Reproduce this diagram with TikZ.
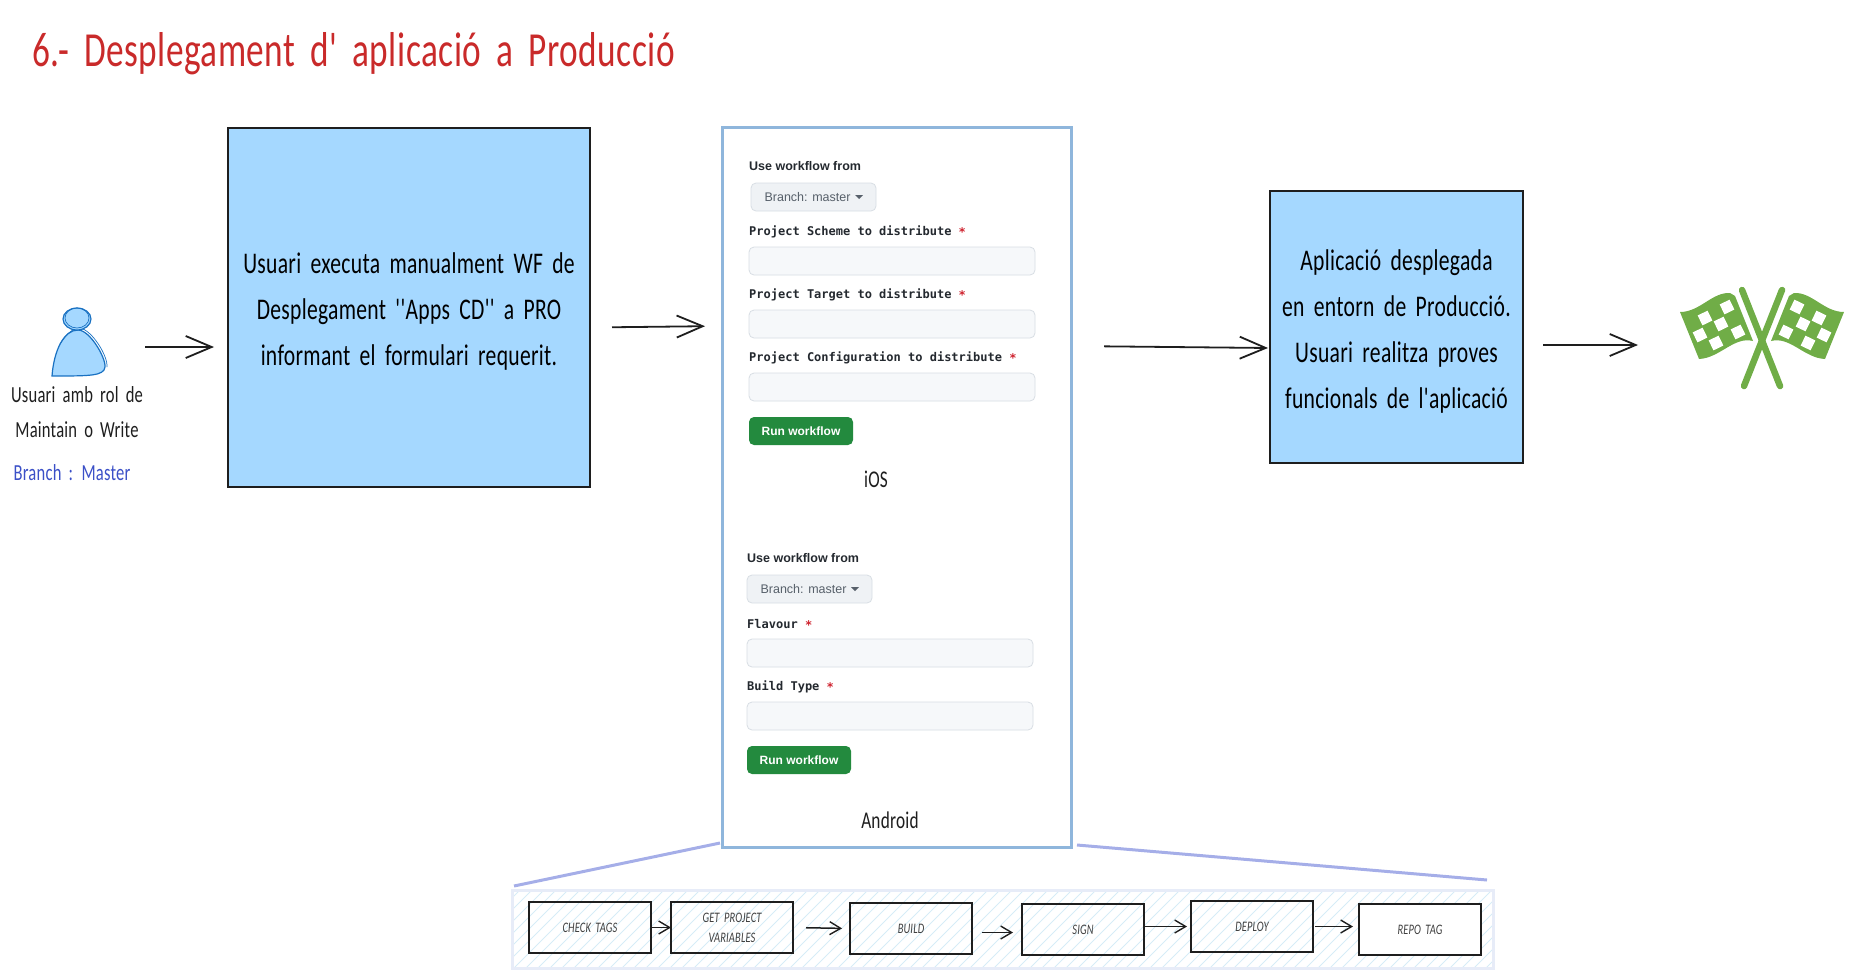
\documentclass[tikz,border=0pt]{standalone}
\usepackage{fontspec}
\usepackage{xcolor}
\usetikzlibrary{positioning}
\usetikzlibrary{arrows.meta}
\newfontfamily\handfont[FakeStretch=0.72,LetterSpace=1,WordSpace=1.8]{Carlito}
\newfontfamily\uifont{Liberation Sans}
\newfontfamily\codefont{DejaVu Sans Mono}
\definecolor{inkblack}{HTML}{1E1E1E}
\definecolor{skyfill}{HTML}{A5D8FF}
\definecolor{skyline}{HTML}{1971C2}
\definecolor{titlered}{HTML}{C92A2A}
\definecolor{branchblue}{HTML}{3B50C7}
\definecolor{formframe}{HTML}{8FB6DC}
\definecolor{zoomblue}{HTML}{A5AEE8}
\definecolor{panelline}{HTML}{E7ECF8}
\definecolor{hatchblue}{HTML}{D6ECF7}
\definecolor{runis}{HTML}{238A3E}
\definecolor{fieldfill}{HTML}{F6F8FA}
\definecolor{fieldline}{HTML}{D8DEE4}
\definecolor{btnfill}{HTML}{EFF2F5}
\definecolor{btntext}{HTML}{57606A}
\definecolor{labeltext}{HTML}{24292F}
\definecolor{starred}{HTML}{CF222E}
\definecolor{flaggreen}{HTML}{70AD47}
\tikzset{handtext/.style={inkblack, inner sep=0pt, align=center, font=\handfont\fontsize{#1}{#1}\selectfont},
bluebox/.style={draw=inkblack, fill=skyfill, line width=2.5pt, inner sep=0pt, outer sep=0pt, align=center, anchor=north west, font=\handfont\fontsize{30}{46}\selectfont},
stepbox/.style={draw=inkblack, line width=1.6pt, inner sep=0pt, outer sep=0pt, anchor=north west, align=center, minimum width=122pt, minimum height=51pt, font=\handfont\itshape\fontsize{14.5}{20}\selectfont, text=inkblack!85},
flowarrow/.style={draw=inkblack, line width=1.8pt, -{Straight Barb[length=26pt,width=22pt,line width=1.8pt]}},
steparrow/.style={draw=inkblack, line width=1.5pt, -{Straight Barb[length=11pt,width=13pt,line width=1.4pt]}},
zoomline/.style={draw=zoomblue, line width=3pt},
uilabel/.style={anchor=west, inner sep=0pt, text=labeltext, font=\uifont\bfseries\fontsize{12.5}{14}\selectfont},
codelabel/.style={anchor=west, inner sep=0pt, text=labeltext, font=\codefont\bfseries\fontsize{12}{14}\selectfont},
inputfield/.style={draw=fieldline, fill=fieldfill, line width=.8pt, rounded corners=5pt, outer sep=0pt, anchor=north west, minimum width=286pt, minimum height=28pt, inner sep=0pt},
branchbtn/.style={draw=fieldline, fill=btnfill, line width=.8pt, rounded corners=5pt, outer sep=0pt, anchor=north west, minimum width=125pt, minimum height=28pt, inner sep=0pt, text=btntext, font=\uifont\fontsize{12.5}{14}\selectfont},
runbtn/.style={fill=runis, rounded corners=5pt, outer sep=0pt, anchor=north west, minimum width=104pt, minimum height=28pt, inner sep=0pt, text=white, font=\uifont\bfseries\fontsize{12}{14}\selectfont}}
\newcommand{\reqstar}{ {\color{starred}\raisebox{-1pt}{*}}}

\begin{document}
\begin{tikzpicture}[x=1pt, y=-1pt]
	\useasboundingbox (0,0) rectangle (1857,978);

	\node[handtext=49, text=titlered, anchor=west] (title) at (32,54) {6.- Desplegament d' aplicació a Producció};

	\coordinate (usericon) at (78,347);
	\draw[skyline, fill=skyfill, line width=1.2pt] (52,376) .. controls (54,350) and (64,330) .. (78,330) .. controls (90,330) and (106,358) .. (105,367) .. controls (104,376) and (90,376) .. (52,376) -- cycle;
	\draw[skyline, line width=.7pt] (60,344) .. controls (66,335) and (72,328) .. (80,328) .. controls (92,330) and (108,356) .. (107,367);
	\draw[skyline, fill=skyfill, line width=1.2pt] (77,319) ellipse [x radius=14pt, y radius=11pt];
	\draw[skyline, line width=.7pt] (77,318) ellipse [x radius=12pt, y radius=10pt];
	\node[handtext=23] (userline) at (77,395) {Usuari amb rol de};
	\node[handtext=23] (userrole) at (77,430) {Maintain o Write};
	\node[handtext=23, text=branchblue] (userbranch) at (72,473) {Branch : Master};

	\node[bluebox, minimum width=362pt, minimum height=359pt] (boxrequest) at (228,128) {\rule{0pt}{28pt}Usuari executa manualment WF de\\Desplegament ''Apps CD'' a PRO\\informant el formulari requerit.};

	\node[draw=formframe, fill=white, line width=3pt, outer sep=0pt, anchor=north west, minimum width=349pt, minimum height=720pt, inner sep=0pt] (boxforms) at (722,127) {};

	\node[uilabel] (iosfrom) at (749,166) {Use workflow from};
	\node[branchbtn] (iosbranch) at (751,183) {Branch: master\hspace{12pt}\null};
	\fill[btntext] ([xshift=-21pt,yshift=2pt]iosbranch.east) -- ([xshift=-13pt,yshift=2pt]iosbranch.east) -- ([xshift=-17pt,yshift=-2pt]iosbranch.east) -- cycle;
	\node[codelabel] (iosscheme) at (749,232) {Project Scheme to distribute\reqstar};
	\node[inputfield] (iosschemefield) at (749,247) {};
	\node[codelabel] (iostarget) at (749,295) {Project Target to distribute\reqstar};
	\node[inputfield] (iostargetfield) at (749,310) {};
	\node[codelabel] (iosconfig) at (749,358) {Project Configuration to distribute\reqstar};
	\node[inputfield] (iosconfigfield) at (749,373) {};
	\node[runbtn] (iosrun) at (749,417) {Run workflow};
	\node[handtext=24] (ioslabel) at (876,479) {iOS};

	\node[uilabel] (androidfrom) at (747,558) {Use workflow from};
	\node[branchbtn] (androidbranch) at (747,575) {Branch: master\hspace{12pt}\null};
	\fill[btntext] ([xshift=-21pt,yshift=2pt]androidbranch.east) -- ([xshift=-13pt,yshift=2pt]androidbranch.east) -- ([xshift=-17pt,yshift=-2pt]androidbranch.east) -- cycle;
	\node[codelabel] (androidflavour) at (747,624) {Flavour\reqstar};
	\node[inputfield] (androidflavourfield) at (747,639) {};
	\node[codelabel] (androidtype) at (747,687) {Build Type\reqstar};
	\node[inputfield] (androidtypefield) at (747,702) {};
	\node[runbtn] (androidrun) at (747,746) {Run workflow};
	\node[handtext=24] (androidlabel) at (890,820) {Android};

	\node[bluebox, minimum width=253pt, minimum height=272pt] (boxdone) at (1270,191) {\rule{0pt}{30pt}Aplicació desplegada\\en entorn de Producció.\\Usuari realitza proves\\funcionals de l'aplicació};

	\coordinate (flagicon) at (1762,345);
	\foreach \flagside in {1,-1} {
		\begin{scope}[shift={(1762,0)}, xscale=\flagside]
			\fill[flaggreen] (-82,312) .. controls (-62,312) and (-50,292) .. (-32,293) -- (-27,296) -- (-9,341) .. controls (-28,336) and (-42,358) .. (-63,359) -- cycle;
			\foreach \cx/\cy in {-35/307, -57/318, -41/324, -62/335, -24/332, -46/343} {
				\fill[white, shift={(\cx,\cy)}, rotate=26] (-5.5,-5.5) rectangle (5.5,5.5);
			}
			\draw[flaggreen, line width=6.5pt, line cap=round] (-20,290) -- (18,386);
		\end{scope}
	}

	\draw[flowarrow, shorten <=67pt, shorten >=14pt] (usericon) -- (boxrequest.west |- usericon);
	\draw[flowarrow, shorten <=22pt, shorten >=17pt] ([yshift=-20pt]boxrequest.east) -- ([yshift=161pt]boxforms.west);
	\draw[flowarrow, shorten <=33pt, shorten >=2pt] ([yshift=141pt]boxforms.east) -- ([yshift=-21pt]boxdone.west);
	\draw[flowarrow, shorten <=20pt, shorten >=124pt] ([yshift=-18pt]boxdone.east) -- (flagicon);

	\node[draw=panelline, line width=3pt, outer sep=0pt, anchor=north west, minimum width=981pt, minimum height=78pt, inner sep=0pt] (pipeline) at (512,890) {};
	\begin{scope}
		\clip (pipeline.south west) rectangle (pipeline.north east);
		\foreach \hx in {430,442,...,1500} {
			\draw[hatchblue, line width=.9pt] (\hx,968) -- (\hx+78,890);
		}
	\end{scope}
	\node[draw=panelline, line width=3pt, outer sep=0pt, anchor=north west, minimum width=981pt, minimum height=78pt, inner sep=0pt] (pipelineframe) at (512,890) {};

	\node[stepbox] (checktags) at (529,902) {CHECK TAGS};
	\node[stepbox] (getvars) at (671,902) {GET PROJECT\\VARIABLES};
	\node[stepbox] (build) at (850,903) {BUILD};
	\node[stepbox] (sign) at (1022,904) {SIGN};
	\node[stepbox] (deploy) at (1191,901) {DEPLOY};
	\node[stepbox, fill=white] (repotag) at (1359,904) {REPO TAG};

	\draw[steparrow] (checktags.east) -- (getvars.west);
	\draw[steparrow, shorten <=13pt, shorten >=8pt] (getvars.east) -- (build.west);
	\draw[steparrow, shorten <=10pt, shorten >=9pt] ([yshift=-4pt]build.east) -- ([yshift=-3pt]sign.west);
	\draw[steparrow, shorten >=4pt] ([yshift=3pt]sign.east) -- ([yshift=0pt]deploy.west);
	\draw[steparrow, shorten <=2pt, shorten >=6pt] (deploy.east) -- ([yshift=3pt]repotag.west);

	\draw[zoomline] ([xshift=-2pt,yshift=4pt]boxforms.south west) -- ([xshift=2pt,yshift=4pt]pipeline.north west);
	\draw[zoomline] ([xshift=6pt,yshift=2pt]boxforms.south east) -- ([xshift=-6pt,yshift=10pt]pipeline.north east);
\end{tikzpicture}
\end{document}
